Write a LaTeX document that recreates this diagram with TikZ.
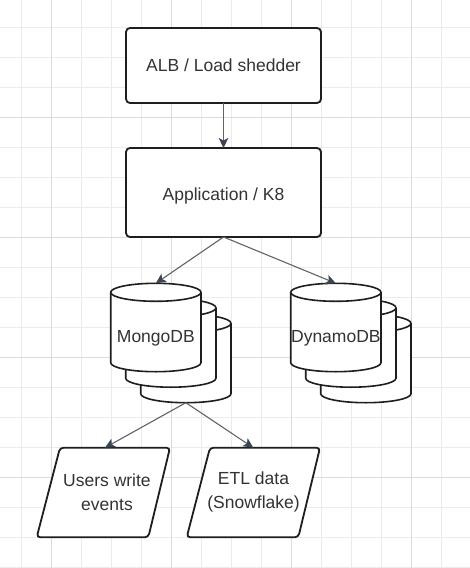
\documentclass[tikz,border=0pt]{standalone}
\usepackage{fontspec}
\setmainfont{Liberation Sans}
\usetikzlibrary{arrows.meta}
\definecolor{gridminor}{HTML}{EBEBEB}
\definecolor{gridmajor}{HTML}{DCDCDC}
\definecolor{edge}{HTML}{1E1E1E}
\definecolor{conncol}{HTML}{60636B}
\definecolor{tipcol}{HTML}{3D4452}
\definecolor{txt}{HTML}{333333}
\newcommand\drawcyl[4]{%
  \filldraw[cylline] (#1,#2+9) -- (#1,#2+#4-9)
    arc[start angle=180,end angle=0,x radius=#3/2,y radius=9]
    -- (#1+#3,#2+9)
    arc[start angle=0,end angle=-180,x radius=#3/2,y radius=9] -- cycle;
  \draw[cylline] (#1,#2+9) arc[start angle=180,end angle=0,x radius=#3/2,y radius=9];
}
\begin{document}
\begin{tikzpicture}[x=1pt,y=-1pt,
  txtfont/.style={font=\fontsize{17.5}{24}\selectfont, text=txt},
  box/.style={draw=edge, line width=1.8pt, rounded corners=4pt, fill=white,
    minimum width=195pt, inner sep=0pt, outer sep=0pt},
  cylline/.style={draw=edge, fill=white, line width=1.6pt},
  para/.style={draw=edge, fill=white, line width=1.8pt, rounded corners=3.5pt},
  anchorbox/.style={inner sep=0pt, outer sep=0pt},
  lbl/.style={txtfont, align=center, inner sep=0pt},
  conn/.style={draw=conncol, line width=1.1pt,
    -{Stealth[length=10pt,width=9.5pt,inset=2.5pt,color=tipcol]}}]
\useasboundingbox (0,0) rectangle (470,568);
\fill[white] (0,0) rectangle (470,568);
% grid
\foreach \gx in {21.7,51.7,...,470} \draw[gridminor, line width=1pt] (\gx,0) -- (\gx,568);
\foreach \gy in {27.3,57.3,...,570} \draw[gridminor, line width=1pt] (0,\gy) -- (470,\gy);
\foreach \gx in {51.7,171.7,291.7,411.7} \draw[gridmajor, line width=1pt] (\gx,0) -- (\gx,568);
\foreach \gy in {117.3,237.3,357.3,477.3} \draw[gridmajor, line width=1pt] (0,\gy) -- (470,\gy);

% boxes
\node[box, minimum height=75pt] (alb) at (223.5,65.5) {};
\node[box, minimum height=89pt] (app) at (223.5,192.5) {};
\node[lbl, anchor=base] (alblbl) at (223.5,71) {ALB / Load shedder};
\node[lbl, anchor=base] (applbl) at (223.5,200) {Application / K8};

% MongoDB stack
\drawcyl{140.7}{314.3}{90.3}{88.4}
\drawcyl{125.7}{298.8}{90.3}{88.4}
\drawcyl{110.7}{283.3}{90.3}{88.4}
\node[anchorbox, minimum width=90.3pt, minimum height=88.4pt] (mongo) at (155.85,327.5) {};
\node[anchorbox, minimum width=90.3pt, minimum height=88.4pt] (mongoback) at (185.85,358.5) {};
\node[lbl] (mongolbl) at (155.85,338) {MongoDB};

% DynamoDB stack
\drawcyl{320.7}{314.3}{90.3}{88.4}
\drawcyl{305.7}{298.8}{90.3}{88.4}
\drawcyl{290.7}{283.3}{90.3}{88.4}
\node[anchorbox, minimum width=90.3pt, minimum height=88.4pt] (dynamo) at (335.85,327.5) {};
\node[lbl] (dynamolbl) at (335.85,338) {DynamoDB};

% parallelograms
\draw[para] (60,447.7) -- (170,447.7) -- (148.3,537.3) -- (36.7,537.3) -- cycle;
\draw[para] (210,447.7) -- (320,447.7) -- (298.3,537.3) -- (186.7,537.3) -- cycle;
\node[anchorbox, minimum width=133.3pt, minimum height=89.6pt] (users) at (105,492.5) {};
\node[anchorbox, minimum width=133.3pt, minimum height=89.6pt] (etl) at (253.3,492.5) {};
\node[lbl] (userslbl) at (107,492) {Users write\\events};
\node[lbl] (etllbl) at (253.5,492) {ETL data\\(Snowflake)};

% connectors
\draw[conn] (alb.south) -- (app.north);
\draw[conn] (app.south) -- (mongo.north);
\draw[conn] (app.south) -- (dynamo.north);
\draw[conn] (mongoback.south) -- (users.north);
\draw[conn] (mongoback.south) -- (etl.north);
\end{tikzpicture}
\end{document}
